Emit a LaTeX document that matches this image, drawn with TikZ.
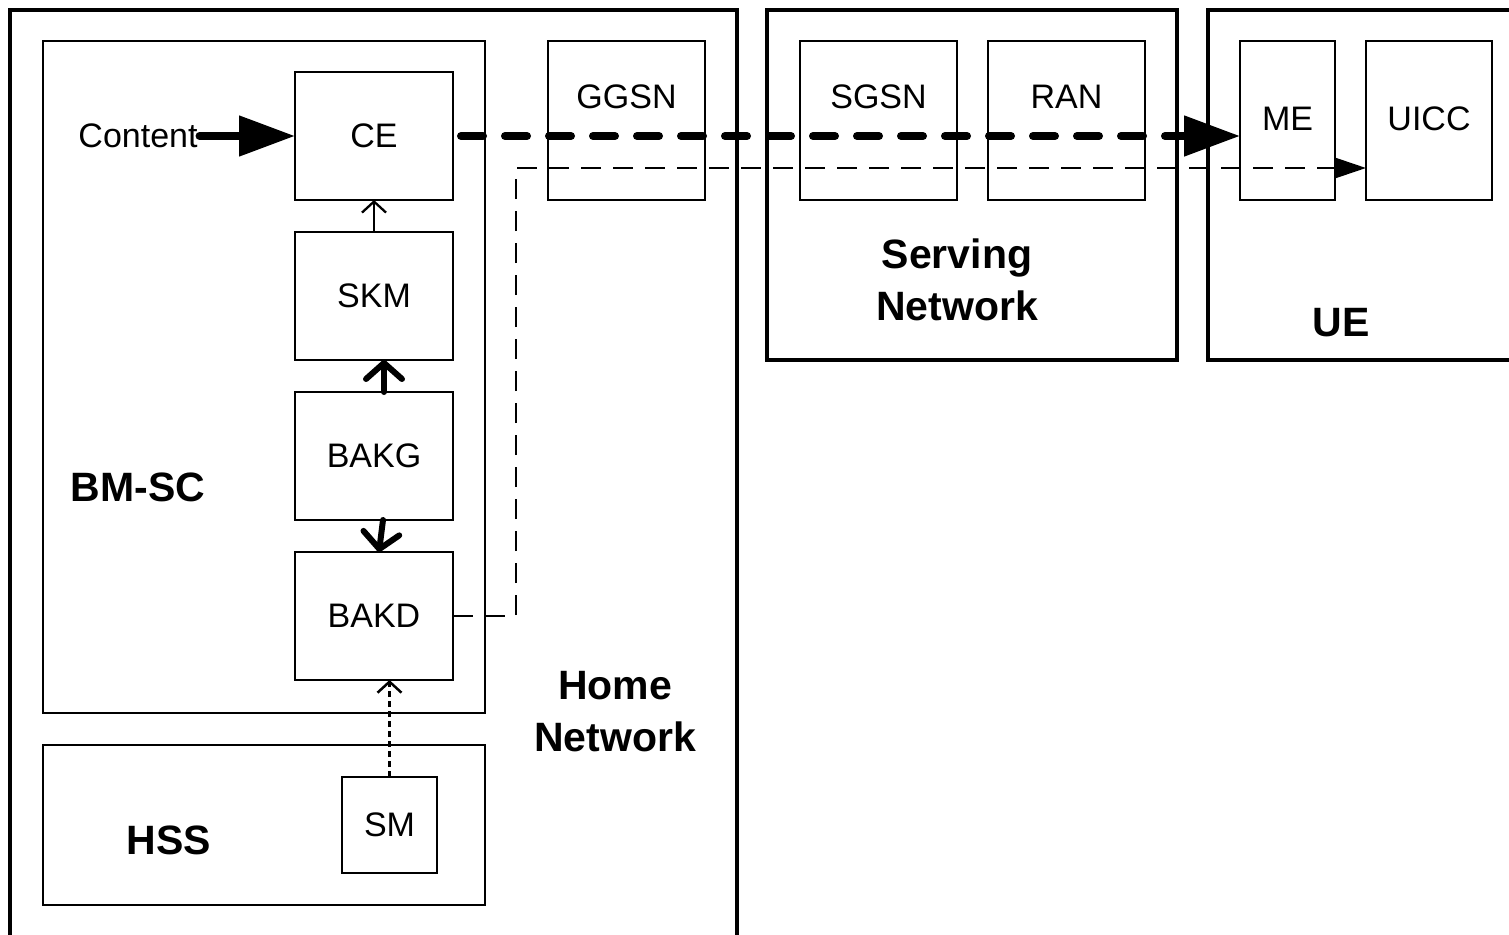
\documentclass[tikz,border=0pt]{standalone}
\usepackage{fontspec}
\setmainfont{Liberation Sans}
\usetikzlibrary{arrows.meta}
\begin{document}
\begin{tikzpicture}[x=1pt,y=-1pt,
  outerbox/.style={draw, line width=4.5pt, inner sep=0pt, outer sep=0pt},
  innerbox/.style={draw, line width=2.5pt, fill=white, inner sep=0pt, outer sep=0pt,
                   font=\fontsize{34}{40}\selectfont},
  lbl/.style={inner sep=0pt, outer sep=0pt, font=\fontsize{34}{40}\selectfont},
  title/.style={inner sep=0pt, align=center, font=\fontsize{41}{52}\selectfont\bfseries},
  feed/.style={line width=8pt, line cap=round, -{Triangle[length=56pt,width=39pt]}},
  stream/.style={line width=8pt, line cap=round, dash pattern=on 22pt off 22pt,
                 dash phase=-4pt, -{Triangle[length=56pt,width=39pt]}},
  keylink/.style={line width=6pt, line cap=round,
                  -{Straight Barb[length=16pt,width=36pt,round]}},
  thinlink/.style={line width=2.3pt, -{Straight Barb[length=11pt,width=24pt]}},
  bakpath/.style={line width=2.3pt, dash pattern=on 20pt off 12pt,
                  -{Triangle[length=32pt,width=21pt]}},
  smpath/.style={line width=2.5pt, dash pattern=on 6pt off 4pt,
                 -{Straight Barb[length=11pt,width=24pt]}}]
\useasboundingbox (0,0) rectangle (1509,934);
\clip (0,0) rectangle (1509,934);

% network domains
\node[outerbox, minimum width=727pt, minimum height=940pt] (home) at (373.5,480) {};
\node[outerbox, minimum width=410pt, minimum height=350pt] (serving) at (972,185) {};
\node[outerbox, minimum width=322pt, minimum height=350pt] (ue) at (1369,185) {};

% home network entities
\node[innerbox, minimum width=442pt, minimum height=672pt] (bmsc) at (264,377) {};
\node[innerbox, minimum width=442pt, minimum height=160pt] (hss) at (264,825) {};
\node[innerbox, minimum width=157pt, minimum height=159pt] (ggsn) at (626.5,120.5) {};
\node[lbl] (ggsnlbl) at ([yshift=-56pt]ggsn.north) {GGSN};

\node[innerbox, minimum width=158pt, minimum height=128pt] (ce) at (374,136) {CE};
\node[innerbox, minimum width=158pt, minimum height=128pt] (skm) at (374,296) {SKM};
\node[innerbox, minimum width=158pt, minimum height=128pt] (bakg) at (374,456) {BAKG};
\node[innerbox, minimum width=158pt, minimum height=128pt] (bakd) at (374,616) {BAKD};
\node[innerbox, minimum width=95pt, minimum height=96pt] (sm) at (389.5,825) {SM};

% serving network entities
\node[innerbox, minimum width=157pt, minimum height=159pt] (sgsn) at (878.5,120.5) {};
\node[lbl] (sgsnlbl) at ([yshift=-56pt]sgsn.north) {SGSN};
\node[innerbox, minimum width=157pt, minimum height=159pt] (ran) at (1066.5,120.5) {};
\node[lbl] (ranlbl) at ([yshift=-56pt]ran.north) {RAN};

% user equipment
\node[innerbox, minimum width=95pt, minimum height=159pt] (me) at (1287.5,120.5) {};
\node[lbl] (melbl) at ([yshift=-78pt]me.north) {ME};
\node[innerbox, minimum width=126pt, minimum height=159pt] (uicc) at (1429,120.5) {};
\node[lbl] (uicclbl) at ([yshift=-78pt]uicc.north) {UICC};

% domain titles
\node[title] (bmsclbl) at (138,487) {BM-SC};
\node[title] (hsslbl) at (169,840) {HSS};
\node[title] (homelbl) at (615,712) {Home\\Network};
\node[title] (servinglbl) at (957,280) {Serving\\Network};
\node[title] (uelbl) at (1341,323) {UE};

\node[lbl] (content) at (138,136) {Content};

% flows
\draw[feed] ([xshift=2pt]content.east) -- (ce.west);
\draw[stream] ([xshift=4pt]ce.east) -- (ce.east -| me.west);
\draw[thinlink] (skm.north) -- (ce.south);
\draw[keylink] ([xshift=10pt]bakg.north) -- ([xshift=10pt]skm.south);
\draw[keylink] ([xshift=9pt]bakg.south) -- ([xshift=5pt]bakd.north);
\coordinate (bend) at (516,168);
\draw[bakpath] (bakd.east) -| (bend) -- (bend -| uicc.west);
\draw[smpath] (sm.north) -- (sm.north |- bakd.south);
\end{tikzpicture}
\end{document}
